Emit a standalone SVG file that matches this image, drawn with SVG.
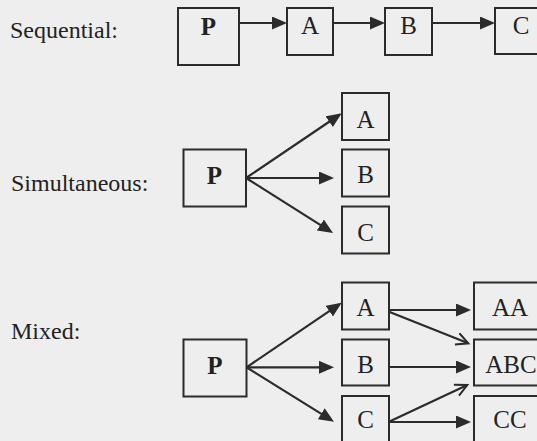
<svg xmlns="http://www.w3.org/2000/svg" width="537" height="441" viewBox="0 0 537 441">
  <style>
    .box { fill: none; stroke: #2b2b2b; stroke-width: 2; }
    .lbl { font-family: "Liberation Serif", "Times New Roman", serif; font-size: 24px; fill: #222; }
    .t { font-family: "Liberation Serif", "Times New Roman", serif; font-size: 25px; fill: #222; text-anchor: middle; }
    .b { font-weight: bold; }
    .arr { stroke: #2b2b2b; stroke-width: 2.2; fill: none; marker-end: url(#solid); }
    .open { stroke: #2b2b2b; stroke-width: 2.2; fill: none; marker-end: url(#vee); }
  </style>
  <defs>
    <marker id="solid" markerUnits="userSpaceOnUse" markerWidth="16" markerHeight="14" refX="12" refY="6.5" orient="auto">
      <path d="M0,0 L15,6.5 L0,13 z" fill="#2b2b2b"/>
    </marker>
    <marker id="vee" markerUnits="userSpaceOnUse" markerWidth="16" markerHeight="16" refX="13" refY="7" orient="auto">
      <path d="M1,1 L13,7 L1,13" fill="none" stroke="#2b2b2b" stroke-width="2"/>
    </marker>
  </defs>

  <rect width="537" height="441" fill="#eeeeee"/>

  <!-- row labels -->
  <text class="lbl" x="10" y="38">Sequential:</text>
  <text class="lbl" x="11" y="191">Simultaneous:</text>
  <text class="lbl" x="11" y="339">Mixed:</text>

  <!-- sequential chain -->
  <g id="seq-P"><rect class="box" x="178" y="8" width="61" height="57"/><text class="t b" x="208.5" y="35">P</text></g>
  <g id="seq-A"><rect class="box" x="287" y="8" width="46" height="47"/><text class="t" x="310" y="34">A</text></g>
  <g id="seq-B"><rect class="box" x="385" y="8" width="47" height="47"/><text class="t" x="408.5" y="34">B</text></g>
  <g id="seq-C"><rect class="box" x="495" y="8" width="52" height="46"/><text class="t" x="521" y="34">C</text></g>

  <!-- simultaneous fan-out -->
  <g id="sim-P"><rect class="box" x="183.5" y="149.5" width="62.5" height="57"/><text class="t b" x="214.5" y="184">P</text></g>
  <g id="sim-A"><rect class="box" x="342" y="93" width="47" height="47"/><text class="t" x="365.5" y="128">A</text></g>
  <g id="sim-B"><rect class="box" x="342" y="149.5" width="47" height="47"/><text class="t" x="365.5" y="183">B</text></g>
  <g id="sim-C"><rect class="box" x="342" y="206.5" width="47" height="47"/><text class="t" x="365.5" y="241">C</text></g>

  <!-- mixed -->
  <g id="mix-P"><rect class="box" x="183.5" y="339.5" width="63" height="57"/><text class="t b" x="215" y="374">P</text></g>
  <g id="mix-A"><rect class="box" x="342" y="282.5" width="47" height="47"/><text class="t" x="365.5" y="316">A</text></g>
  <g id="mix-B"><rect class="box" x="342" y="339.5" width="47" height="46"/><text class="t" x="365.5" y="373">B</text></g>
  <g id="mix-C"><rect class="box" x="342" y="396" width="47" height="47"/><text class="t" x="365.5" y="428">C</text></g>
  <g id="mix-AA"><rect class="box" x="474" y="282.5" width="74" height="47"/><text class="t" x="510" y="316">AA</text></g>
  <g id="mix-ABC"><rect class="box" x="474" y="339.5" width="74" height="46"/><text class="t" x="511" y="373">ABC</text></g>
  <g id="mix-CC"><rect class="box" x="474" y="396" width="74" height="47"/><text class="t" x="510" y="428">CC</text></g>

  <!-- connectors -->
  <g id="connectors">
    <line class="arr" x1="239" y1="23" x2="284" y2="23"/>
    <line class="arr" x1="333" y1="23" x2="382" y2="23"/>
    <line class="arr" x1="432" y1="23" x2="492" y2="23"/>

    <line class="arr" x1="246" y1="178" x2="339.2" y2="115"/>
    <line class="arr" x1="246" y1="178" x2="331" y2="178"/>
    <line class="arr" x1="246" y1="178" x2="330.5" y2="231.4"/>

    <line class="arr" x1="246.5" y1="367.3" x2="339.2" y2="304.4"/>
    <line class="arr" x1="246.5" y1="367.3" x2="331" y2="367.3"/>
    <line class="arr" x1="246.5" y1="367.3" x2="331.4" y2="420.1"/>

    <line class="arr" x1="389" y1="310" x2="468" y2="310"/>
    <line class="open" x1="389" y1="311.7" x2="468.3" y2="343.3"/>
    <line class="arr" x1="389" y1="367" x2="468" y2="367"/>
    <line class="open" x1="389" y1="421.7" x2="467.3" y2="385"/>
    <line class="arr" x1="389" y1="422" x2="468" y2="422"/>
  </g>
</svg>
